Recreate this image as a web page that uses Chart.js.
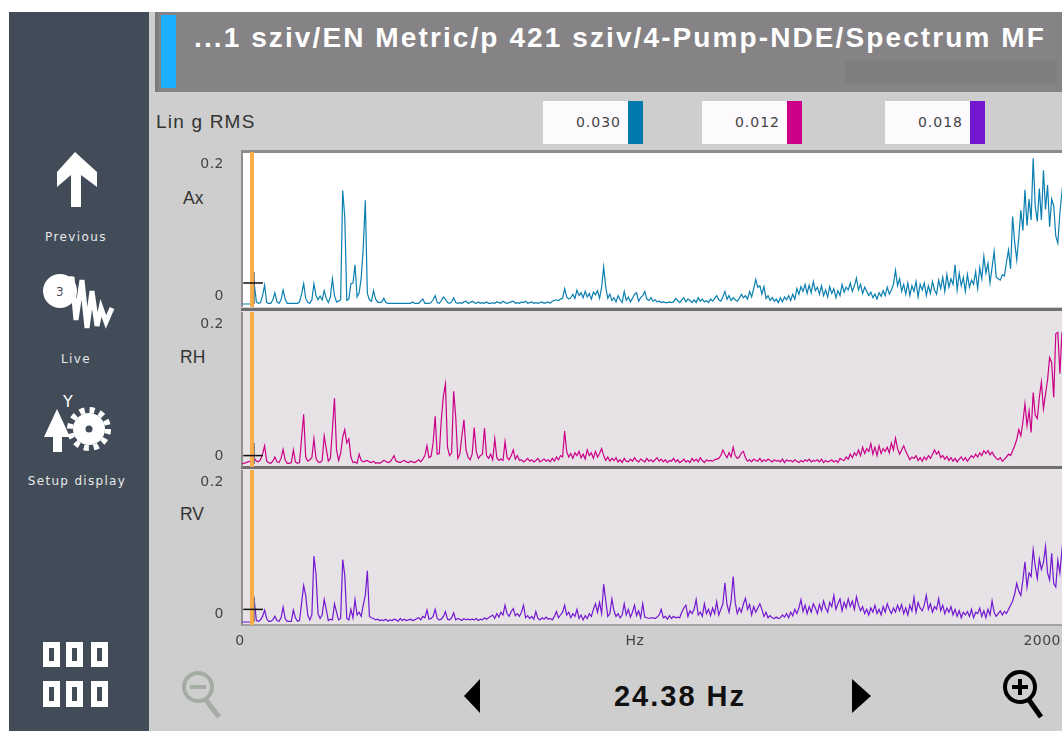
<!DOCTYPE html>
<html>
<head>
<meta charset="utf-8">
<title>Spectrum MF</title>
<script src="https://cdn.jsdelivr.net/npm/chart.js@4/dist/chart.umd.min.js"></script>
<style>
  html, body { margin: 0; padding: 0; background: #fff; }
  body { width: 1062px; height: 731px; position: relative; overflow: hidden; font-family: "Liberation Sans", Arial, sans-serif; filter: blur(0.4px); }
  .abs { position: absolute; }
  canvas { position: absolute; }
  #main { left: 9px; top: 12px; width: 1053px; height: 719px; background: #cecece; }
  #side { left: 9px; top: 12px; width: 140px; height: 719px; background: #414c58; }
  #titlebar { left: 155px; top: 12px; width: 907px; height: 80px; background: #858385; box-shadow: inset 3px 0 0 #7b7b7b; }
  #accent { left: 161px; top: 15px; width: 15px; height: 73px; background: #1ab0ff; }
  #patch { left: 845px; top: 60px; width: 212px; height: 24px; background: #7f7f7f; }
  #title { left: 194px; top: 22px; color: #fff; font-weight: bold; font-size: 28px; letter-spacing: 2.1px; white-space: nowrap; }
  .sideLabel { width: 140px; left: 6px; text-align: center; color: #e8e8e8; font: 12px "DejaVu Sans", sans-serif; letter-spacing: 1.4px; }
  #unit { left: 156px; top: 111px; color: #333; font-size: 19px; letter-spacing: 1.2px; }
  .rmsBox { top: 101px; height: 43px; width: 85px; background: #fdfafe; color: #444; font: 14px/43px "DejaVu Sans", sans-serif; text-align: right; letter-spacing: 1px; box-sizing: border-box; padding-right: 7px; }
  .rmsSwatch { top: 101px; height: 43px; width: 15px; }
  .chLabel { color: #333; font-size: 17.5px; }
  #cursorText { left: 560px; width: 240px; top: 680px; text-align: center; font-weight: bold; font-size: 29px; letter-spacing: 2px; color: #111; }
</style>
</head>
<body>
<div class="abs" id="main"></div>
<div class="abs" id="side"></div>
<div class="abs" id="titlebar"></div>
<div class="abs" id="accent"></div>
<div class="abs" id="patch"></div>
<div class="abs" id="title">...1 sziv/EN Metric/p 421 sziv/4-Pump-NDE/Spectrum MF</div>

<div class="abs sideLabel" style="top:230px">Previous</div>
<div class="abs sideLabel" style="top:352px">Live</div>
<div class="abs sideLabel" style="top:474px;letter-spacing:1.3px;left:7px">Setup display</div>

<div class="abs" id="unit">Lin g RMS</div>
<div id="rmsRow"></div>
<div id="panelBack"></div>
<div id="chLabels"></div>

<svg class="abs" style="left:0;top:0" width="1062" height="731">
  <!-- side bar icons -->
  <polygon points="75,152 97,172 97,187 81,175 81,207 71,207 71,175 57,187 57,172" fill="#fff"/>
  <circle cx="60" cy="291" r="17" fill="#fff"/>
  <text x="56" y="296" font-size="12" fill="#414c58" font-family="DejaVu Sans">3</text>
  <polyline points="62,302 72,277 76,320 82,280 87,328 92,291 97,326 101,308 106,322 112,308" fill="none" stroke="#fff" stroke-width="5"/>
  <text x="68" y="407" text-anchor="middle" font-size="16" fill="#fff" font-family="DejaVu Sans">Y</text>
  <polygon points="57,409 70,437 62,437 62,452 53,452 53,437 44,437" fill="#fff"/>
  <circle cx="89" cy="429" r="16" fill="#fff"/>
  <circle cx="89" cy="429" r="19" fill="none" stroke="#fff" stroke-width="6" stroke-dasharray="5 4.95"/>
  <circle cx="89" cy="429" r="3.5" fill="#414c58"/>
  <g fill="none" stroke="#fff" stroke-width="6">
    <rect x="46" y="645" width="11" height="19"/><rect x="69" y="645" width="11" height="19"/><rect x="94" y="645" width="11" height="19"/>
    <rect x="46" y="684" width="11" height="20"/><rect x="69" y="684" width="11" height="20"/><rect x="94" y="684" width="11" height="20"/>
  </g>
  <!-- bottom controls -->
  <g fill="none" stroke="#a4aca4" stroke-width="4">
    <circle cx="198" cy="687" r="14"/><path d="M190,687h16" stroke-width="4"/><path d="M206,700L219,717" stroke-width="5"/>
  </g>
  <polygon points="480,679 480,713 464,696" fill="#000"/>
  <polygon points="852,679 852,713 871,696" fill="#000"/>
  <g fill="none" stroke="#000" stroke-width="4">
    <circle cx="1020" cy="687" r="15"/><path d="M1012,687h16M1020,679v16"/><path d="M1029,700L1041,717" stroke-width="5"/>
  </g>
</svg>
<div class="abs" id="cursorText">24.38 Hz</div>
<canvas id="plotAx"></canvas>
<canvas id="plotRH"></canvas>
<canvas id="plotRV"></canvas>

<script>
// spectrum amplitudes in milli g, one value every 5 Hz from 0 to 2000 Hz
const binHz = 5;
const axValues = [
  0,0,0,0,0,1,28,3,1,2,12,27,2,1,1,6,16,3,1,6,
  20,7,1,1,1,1,1,1,3,14,29,8,2,1,6,29,12,6,11,6,
  19,8,2,10,36,12,3,4,6,162,125,5,7,29,30,56,10,16,37,80,
  148,15,6,4,19,7,3,2,3,8,2,1,1,1,1,1,1,1,1,1,
  1,1,1,3,1,1,1,4,7,1,1,1,2,6,12,2,1,5,10,7,
  2,1,3,9,2,1,2,1,3,4,1,2,4,2,1,3,1,2,1,3,
  1,1,2,1,3,2,1,4,2,1,2,3,4,1,2,1,3,2,4,1,
  2,3,1,2,1,2,3,1,2,3,1,4,5,6,5,7,8,22,10,7,
  9,14,8,20,12,16,9,18,10,15,7,17,13,19,8,24,53,24,8,14,
  5,9,3,12,6,2,18,5,10,3,8,14,16,4,9,12,18,7,5,9,
  4,6,3,4,2,3,2,2,3,2,3,8,5,2,6,9,3,7,5,2,
  6,2,9,4,7,3,5,2,7,4,8,12,6,4,10,18,7,12,5,9,
  6,4,8,14,9,12,7,18,10,22,35,24,26,14,25,8,12,5,9,4,
  7,2,9,3,10,6,12,5,14,7,22,14,25,18,28,15,27,16,32,19,
  24,14,26,12,20,10,25,15,22,9,19,12,28,17,24,20,30,18,26,37,
  20,28,15,24,18,12,17,9,14,7,16,11,19,12,24,14,20,28,48,26,
  36,18,28,14,30,12,26,18,32,10,28,20,30,12,26,15,32,20,14,34,
  22,38,18,42,24,36,28,56,20,44,26,38,18,42,24,34,28,46,22,52,
  36,68,44,58,30,52,75,38,36,34,42,40,60,77,50,125,88,63,95,134,
  105,163,112,150,120,208,140,118,165,120,191,135,170,110,150,140,97,87,130,160,
  187
];
const rhValues = [
  0,1,2,3,4,5,8,4,3,6,14,26,4,2,1,4,10,3,2,8,
  21,6,1,1,2,20,3,1,2,37,71,10,4,6,9,36,8,3,2,5,
  40,22,4,8,49,94,20,5,15,38,49,30,36,10,2,3,1,14,5,3,
  4,5,3,2,4,1,2,1,3,5,4,2,3,7,12,4,3,2,4,5,
  3,2,4,3,2,4,6,3,7,12,26,9,11,30,68,14,15,64,97,114,
  24,12,16,104,67,8,14,40,63,20,10,6,14,52,18,8,12,14,51,12,
  8,14,6,36,9,5,7,5,32,9,6,12,20,7,12,5,6,3,5,8,
  4,6,3,5,8,3,5,7,4,6,3,8,4,10,6,12,10,47,18,10,
  15,8,16,12,18,9,14,7,20,12,16,8,18,10,15,22,12,5,10,4,
  8,5,9,3,6,2,8,4,3,7,4,9,5,3,7,5,3,8,4,6,
  3,6,9,4,7,3,6,2,5,4,8,3,6,2,4,7,3,5,2,8,
  4,7,3,9,5,2,6,4,5,4,6,7,8,12,20,14,9,16,10,24,
  12,8,10,16,18,9,4,6,3,7,5,4,8,3,6,4,7,5,3,6,
  4,5,3,7,2,6,4,5,3,6,4,2,5,3,6,4,7,3,5,4,
  6,3,7,2,5,3,4,6,3,5,2,8,6,5,10,7,14,9,16,12,
  20,12,24,15,22,18,29,14,24,12,26,15,22,18,24,16,30,20,37,22,
  14,20,26,18,12,6,10,8,12,5,9,4,10,6,12,8,14,20,14,18,
  9,12,7,11,5,9,4,8,3,7,10,5,9,4,8,12,9,14,10,16,
  12,19,15,19,13,17,12,8,6,9,4,7,10,14,12,19,26,35,49,40,
  60,86,55,76,45,102,70,65,95,117,79,100,120,152,145,95,186,188,129,188,
  120
];
const rvValues = [
  0,0,0,0,0,1,30,2,1,3,8,17,5,1,1,3,8,2,1,6,
  21,5,1,1,1,17,6,1,2,27,52,38,10,3,10,94,69,12,5,10,
  32,18,2,4,3,26,14,3,5,89,67,5,3,18,6,32,10,14,8,24,
  38,73,8,6,5,3,4,2,3,2,4,1,3,2,4,3,1,5,2,4,
  2,3,4,2,3,5,6,3,8,6,17,4,5,8,18,5,3,4,8,15,
  4,3,6,13,3,5,4,2,5,3,4,3,4,3,5,2,4,3,6,4,
  6,8,10,5,12,7,14,10,24,12,8,15,19,9,12,8,14,24,6,9,
  5,8,4,15,5,3,6,4,7,4,5,3,8,15,6,10,14,24,10,14,
  6,12,8,18,5,10,3,9,5,12,8,18,26,14,28,12,54,31,8,12,
  33,16,8,12,6,10,26,10,18,7,14,24,9,16,6,26,7,6,5,6,
  6,5,7,10,18,6,8,4,9,5,8,6,7,6,14,20,24,8,16,12,
  18,32,10,14,8,26,12,18,9,20,12,29,10,18,26,56,25,14,30,65,
  28,12,20,14,26,34,18,25,10,22,14,20,26,18,8,14,6,9,6,5,
  7,5,6,10,7,12,6,14,9,18,12,20,32,15,24,12,22,14,26,20,
  12,25,16,30,20,14,28,22,38,18,26,33,16,28,20,33,22,30,18,36,
  24,16,22,12,18,10,20,14,24,12,18,10,22,14,26,18,12,20,14,24,
  16,25,12,20,10,24,16,35,14,28,20,16,24,38,18,26,14,22,18,33,
  16,24,12,20,14,22,10,18,8,16,6,14,10,15,8,18,6,14,12,20,
  8,16,6,18,10,30,14,8,12,16,10,15,12,18,24,30,40,55,44,38,
  60,86,50,70,65,103,80,62,90,75,85,108,70,60,98,55,50,88,70,103,
  80
];
const channelNames = ['Ax', 'RH', 'RV'];
const rmsValues = [0.030, 0.012, 0.018];
const crossTops = [0.046, 0.030, 0.035];
const cursorHz = 24.38;
const yTicks = [0, 0.2];
const xTickValues = [0, 961, 2000];
const xTickLabels = ['0', 'Hz', '2000\u00a0\u00a0\u00a0\u00a0\u00a0\u00a0\u00a0\u00a0'];

const lineColors = ['#0a7fb0', '#cc0088', '#7317d1'];
const swatchColors = ['#0079ad', '#cc0088', '#7317d1'];
const panelTops = [152, 312, 470];
const panelBacks = ['#ffffff', '#e6e2e6', '#e6e2e6'];
const panelHeight = 155;
const rmsLeft = [543, 702, 885];
const labelTops = [188, 347, 504];

// chrome around the plots
channelNames.forEach(function (name, i) {
    document.getElementById('rmsRow').insertAdjacentHTML('beforeend',
        '<div class="abs rmsBox" style="left:' + rmsLeft[i] + 'px">' + rmsValues[i].toFixed(3) + '</div>' +
        '<div class="abs rmsSwatch" style="left:' + (rmsLeft[i] + 85) + 'px;background:' + swatchColors[i] + '"></div>');
    document.getElementById('chLabels').insertAdjacentHTML('beforeend',
        '<div class="abs chLabel" style="left:' + (i == 0 ? 183 : 180) + 'px;top:' + labelTops[i] + 'px">' + name + '</div>');
    const fillTop = i == 0 ? 150 : panelTops[i] - 3;
    document.getElementById('panelBack').insertAdjacentHTML('beforeend',
        '<div class="abs" style="left:242px;width:820px;top:' + fillTop + 'px;height:' + (panelTops[i] + panelHeight - fillTop) + 'px;background:' + panelBacks[i] + '"></div>' +
        '<div class="abs" style="left:241px;width:821px;top:' + (panelTops[i] - (i == 0 ? 2 : 4)) + 'px;height:3px;background:' + (i == 0 ? '#8c8c8c' : '#707070') + '"></div>');
});
document.getElementById('panelBack').insertAdjacentHTML('beforeend',
    '<div class="abs" style="left:241px;width:821px;top:624px;height:2px;background:#a2a2a2"></div>');

const spacingPlugin = {
    id: 'spacing',
    beforeDraw: function (chart) { chart.ctx.letterSpacing = '0.5px'; }
};

function createPanel(canvasId, values, i, showX) {
    const canvas = document.getElementById(canvasId);
    canvas.width = 909;
    canvas.height = panelHeight + (showX ? 28 : 0);
    canvas.style.left = '155px';
    canvas.style.top = panelTops[i] + 'px';

    const cross = rmsValues[i];
    return new Chart(canvas.getContext('2d'), {
        type: 'line',
        plugins: [spacingPlugin],
        data: {
            datasets: [
                {
                    data: values.map((v, k) => ({ x: k * binHz, y: v / 1000 })),
                    borderColor: lineColors[i],
                    borderWidth: 1.2,
                    pointRadius: 0,
                    tension: 0,
                    order: 3
                },
                {
                    // frequency cursor
                    data: [{ x: cursorHz, y: -0.01 }, { x: cursorHz, y: 0.25 }],
                    borderColor: '#f9ae4a',
                    borderWidth: 4,
                    pointRadius: 0,
                    order: 2
                },
                {
                    data: [{ x: 3, y: cross }, { x: 51, y: cross }],
                    borderColor: '#111111',
                    borderWidth: 1.5,
                    pointRadius: 0,
                    order: 1
                },
                {
                    data: [{ x: 30, y: 0 }, { x: 30, y: crossTops[i] }],
                    borderColor: '#777777',
                    borderWidth: 1,
                    pointRadius: 0,
                    order: 1
                }
            ]
        },
        options: {
            responsive: false,
            animation: false,
            devicePixelRatio: 1,
            layout: { padding: 0 },
            plugins: { legend: { display: false }, tooltip: { enabled: false } },
            scales: {
                x: {
                    type: 'linear',
                    display: showX,
                    min: 0,
                    max: 2000,
                    grid: { display: false },
                    border: { display: false },
                    afterBuildTicks: function (scale) {
                        scale.ticks = xTickValues.map(v => ({ value: v }));
                    },
                    afterFit: function (scale) {
                        scale.height = showX ? 28 : 0;
                        scale.paddingLeft = 0;
                        scale.paddingRight = 0;
                    },
                    ticks: {
                        autoSkip: false,
                        maxRotation: 0,
                        padding: 0,
                        labelOffset: -2,
                        color: '#444',
                        font: { family: 'DejaVu Sans', size: 14 },
                        callback: function (v) { return xTickLabels[xTickValues.indexOf(v)]; }
                    }
                },
                y: {
                    type: 'linear',
                    min: -0.0043,
                    max: 0.2171,
                    grid: { display: false },
                    border: { display: true, color: '#8f8f8f', width: 2 },
                    afterBuildTicks: function (scale) {
                        scale.ticks = yTicks.map(v => ({ value: v }));
                    },
                    afterFit: function (scale) {
                        scale.width = 87;
                        scale.paddingTop = 0;
                        scale.paddingBottom = 0;
                    },
                    ticks: {
                        padding: 10,
                        color: '#444',
                        font: { family: 'DejaVu Sans', size: 14, lineHeight: 1.1 },
                        // the zero label sits just above the baseline
                        callback: function (v) { return v === 0 ? ['0', ''] : String(v); }
                    }
                }
            }
        }
    });
}

createPanel('plotAx', axValues, 0, false);
createPanel('plotRH', rhValues, 1, false);
createPanel('plotRV', rvValues, 2, true);
</script>
</body>
</html>
